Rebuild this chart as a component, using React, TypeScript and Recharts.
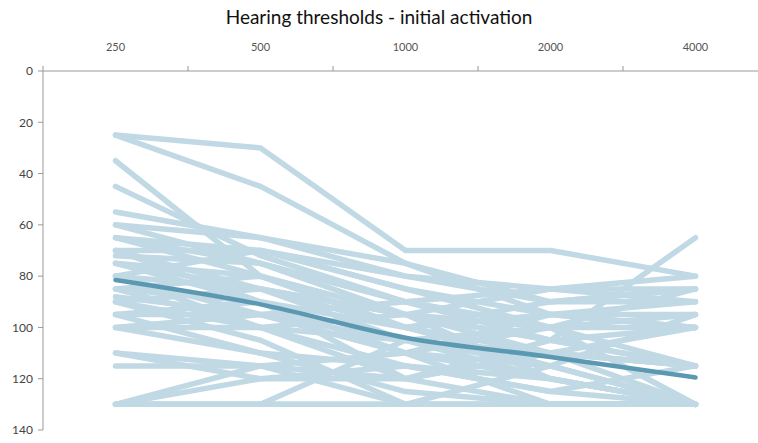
import { LineChart, Line, XAxis, YAxis } from "recharts";

const FREQS = ["250", "500", "1000", "2000", "4000"];
const Y_TICKS = [0, 20, 40, 60, 80, 100, 120, 140];
const X_TICKS = [0, 0.5, 1, 1.5, 2, 2.5, 3, 3.5, 4, 4.5, 5];

// individual patients, dB HL at 250/500/1000/2000/4000 Hz
const P01 = [25, 30, 70, 70, 80];
const P02 = [25, 45, 75, 95, 100];
const P03 = [35, 80, 95, 105, 115];
const P04 = [45, 72, 90, 100, 130];
const P05 = [55, 65, 80, 85, 85];
const P06 = [60, 65, 75, 90, 90];
const P07 = [65, 70, 85, 95, 95];
const P08 = [65, 75, 90, 105, 100];
const P09 = [65, 80, 100, 110, 130];
const P10 = [70, 70, 80, 90, 85];
const P11 = [70, 85, 95, 100, 115];
const P12 = [70, 90, 110, 130, 130];
const P13 = [72, 75, 90, 85, 90];
const P14 = [75, 80, 100, 115, 130];
const P15 = [75, 85, 95, 110, 115];
const P16 = [75, 90, 100, 95, 100];
const P17 = [80, 85, 105, 120, 130];
const P18 = [80, 95, 90, 100, 95];
const P19 = [80, 70, 85, 100, 130];
const P20 = [85, 90, 110, 115, 130];
const P21 = [85, 100, 120, 130, 130];
const P22 = [85, 80, 95, 105, 65];
const P23 = [88, 95, 105, 110, 115];
const P24 = [90, 100, 115, 125, 130];
const P25 = [90, 85, 100, 90, 85];
const P26 = [90, 105, 130, 130, 130];
const P27 = [95, 95, 110, 100, 100];
const P28 = [95, 110, 115, 120, 130];
const P29 = [95, 90, 120, 105, 115];
const P30 = [100, 100, 105, 115, 130];
const P31 = [100, 110, 125, 130, 130];
const P32 = [100, 95, 110, 95, 90];
const P33 = [110, 115, 130, 130, 130];
const P34 = [110, 120, 115, 125, 115];
const P35 = [115, 115, 120, 110, 100];
const P36 = [130, 115, 110, 120, 130];
const P37 = [130, 120, 120, 110, 115];
const P38 = [130, 130, 105, 100, 85];
const P39 = [130, 130, 130, 130, 130];
const P40 = [130, 130, 130, 115, 95];
const P41 = [60, 75, 95, 120, 130];
const P42 = [80, 100, 95, 85, 80];

const MEAN = [81.5, 91, 104, 111.5, 119.5];

const PATIENTS = [
  P01, P02, P03, P04, P05, P06, P07, P08, P09, P10, P11, P12, P13, P14,
  P15, P16, P17, P18, P19, P20, P21, P22, P23, P24, P25, P26, P27, P28,
  P29, P30, P31, P32, P33, P34, P35, P36, P37, P38, P39, P40, P41, P42,
];

const data = FREQS.map((f, i) => {
  const row: Record<string, number | string> = { x: i + 0.5, freq: f, mean: MEAN[i] };
  PATIENTS.forEach((p, j) => { row[`p${j}`] = p[i]; });
  return row;
});

const FONT = "Lato, 'Open Sans', sans-serif";

// top axis: tick marks on band edges, labels on band centres
// eslint-disable-next-line @typescript-eslint/no-explicit-any
const TopTick = ({ x, y, payload }: any) => {
  const v = payload.value as number;
  if (Number.isInteger(v)) {
    return <line x1={x} x2={x} y1={y} y2={y - 5} stroke="#999" strokeWidth={1} />;
  }
  return (
    <text x={x} y={y - 20} textAnchor="middle" fontSize={11} fill="#555" fontFamily={FONT}>
      {FREQS[Math.floor(v)]}
    </text>
  );
};

export default function App() {
  return (
    <div style={{ position: "absolute", left: 0, top: 0, width: 758, height: 443, overflow: "hidden", background: "#fff" }}>
      <div style={{ position: "absolute", top: 5, left: 0, width: 758, textAlign: "center", fontFamily: FONT, fontSize: 19, color: "#111" }}>
        Hearing thresholds - initial activation
      </div>
      <LineChart width={770} height={443} data={data} margin={{ top: 40, right: 2, left: 0, bottom: 13 }}>
        <XAxis
          type="number"
          dataKey="x"
          orientation="top"
          domain={[0, 5]}
          ticks={X_TICKS}
          interval={0}
          height={31}
          axisLine={{ stroke: "#999" }}
          tickLine={false}
          tickSize={0}
          tickMargin={0}
          tick={<TopTick />}
        />
        <YAxis
          type="number"
          domain={[0, 140]}
          reversed
          ticks={Y_TICKS}
          interval={0}
          width={43}
          axisLine={{ stroke: "#999" }}
          tickLine={{ stroke: "#999" }}
          tickSize={5}
          tickMargin={5}
          tick={{ fontSize: 12, fill: "#444", fontFamily: FONT }}
        />
        {PATIENTS.map((_, j) => (
          <Line
            key={j}
            type="linear"
            dataKey={`p${j}`}
            stroke="#c0d9e4"
            strokeWidth={5.5}
            strokeLinecap="round"
            strokeLinejoin="round"
            dot={false}
            isAnimationActive={false}
          />
        ))}
        <Line
          type="monotone"
          dataKey="mean"
          stroke="#5b98b2"
          strokeWidth={4.5}
          strokeLinecap="round"
          dot={false}
          isAnimationActive={false}
        />
      </LineChart>
    </div>
  );
}
